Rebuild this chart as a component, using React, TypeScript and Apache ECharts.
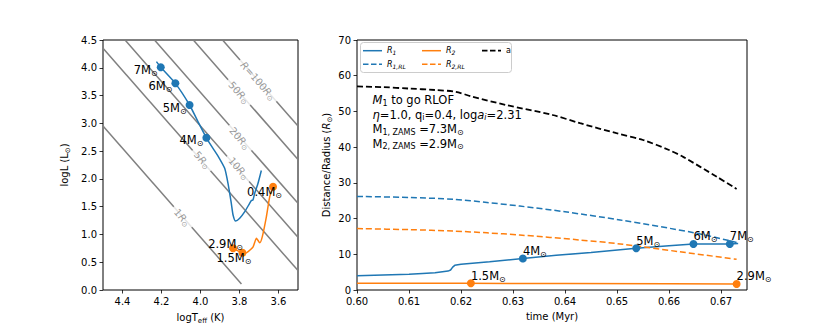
import React, { useEffect, useRef } from 'react';
import * as echarts from 'echarts';

const FONT = 'DejaVu Sans';
const BLUE = '#1f77b4';
const ORANGE = '#ff7f0e';
const GRAY = '#808080';

// ---------- HR diagram (left) ----------
const hrXTicks = [3.6, 3.8, 4.0, 4.2, 4.4];
const isoRadius = ['1', '5', '10', '20', '50', '100'];
const isoStartT = [4.5, 4.5, 4.387, 4.236, 4.037, 3.887];
const isoStartL = [2.95, 4.35, 4.5, 4.5, 4.5, 4.5];
const isoEndT = [3.79, 3.5, 3.5, 3.5, 3.5, 3.5];
const isoEndL = [0.11, 0.35, 0.95, 1.56, 2.35, 2.95];
const isoLabelT = [4.094, 3.991, 3.804, 3.799, 3.803, 3.705];
const isoLabelL = [1.305, 2.34, 2.19, 2.73, 3.555, 3.765];

const track1T = [4.226, 4.204, 4.129, 4.056, 4.013, 3.970, 3.936, 3.905, 3.876, 3.859, 3.842, 3.833, 3.820, 3.799, 3.773, 3.748, 3.739, 3.731, 3.722, 3.705, 3.688];
const track1L = [4.11, 4.01, 3.72, 3.33, 3.03, 2.74, 2.55, 2.38, 2.19, 1.92, 1.56, 1.35, 1.24, 1.29, 1.41, 1.56, 1.61, 1.62, 1.74, 1.92, 2.15];
const track2T = [3.833, 3.785, 3.770, 3.756, 3.731, 3.713, 3.696, 3.683, 3.662, 3.645, 3.628];
const track2L = [0.75, 0.67, 0.66, 0.69, 0.77, 0.93, 0.85, 0.96, 1.32, 1.68, 1.86];

const hr1MarkT = [4.204, 4.129, 4.056, 3.970];
const hr1MarkL = [4.01, 3.72, 3.33, 2.74];
const hr1MarkMass = ['7', '6', '5', '4'];
const hr2MarkT = [3.833, 3.785, 3.628];
const hr2MarkL = [0.75, 0.67, 1.86];
const hr2MarkMass = ['2.9', '1.5', '0.4'];

// ---------- Distance / radius vs time (right) ----------
const timeTicks = [0.6, 0.61, 0.62, 0.63, 0.64, 0.65, 0.66, 0.67];

const aTime = [0.600, 0.605, 0.610, 0.615, 0.619, 0.622, 0.6287, 0.6376, 0.6429, 0.6499, 0.655, 0.660, 0.6628, 0.6692, 0.673];
const aDist = [57.0, 56.8, 56.4, 56.0, 55.5, 54.2, 51.8, 49.0, 46.7, 43.9, 42.0, 39.2, 37.2, 31.7, 28.3];

const r1Time = [0.600, 0.605, 0.610, 0.6126, 0.615, 0.6175, 0.618, 0.6184, 0.6188, 0.620, 0.6255, 0.6319, 0.6383, 0.645, 0.6506, 0.6537, 0.660, 0.6647, 0.6717, 0.6733];
const r1Rad = [4.0, 4.2, 4.4, 4.6, 4.8, 5.3, 5.6, 6.4, 6.9, 7.2, 7.9, 8.8, 9.7, 10.5, 11.3, 11.7, 12.4, 12.9, 12.9, 13.0];

const r1rlTime = [0.600, 0.610, 0.6186, 0.625, 0.6313, 0.640, 0.6506, 0.6653, 0.673];
const r1rlRad = [26.2, 25.9, 25.4, 24.5, 23.5, 21.9, 19.6, 15.9, 13.3];

const r2Time = [0.600, 0.620, 0.640, 0.660, 0.673];
const r2Rad = [1.9, 1.9, 1.8, 1.75, 1.7];

const r2rlTime = [0.600, 0.610, 0.6186, 0.625, 0.6313, 0.6429, 0.6506, 0.6621, 0.673];
const r2rlRad = [17.2, 16.9, 16.5, 16.0, 15.4, 14.0, 12.9, 10.7, 8.6];

const r1MarkTime = [0.6319, 0.6537, 0.6647, 0.6717];
const r1MarkRad = [8.8, 11.7, 12.9, 12.9];
const r1MarkMass = ['4', '5', '6', '7'];
const r2MarkTime = [0.6219, 0.6730];
const r2MarkRad = [1.9, 1.7];
const r2MarkMass = ['1.5', '2.9'];

// legend entries (column-major like matplotlib, ncol=3)
const legendNames = ['R1', 'R1RL', 'R2', 'R2RL', 'a'];

const zip = (xs: number[], ys: number[]) => xs.map((x, i) => [x, ys[i]]);

const sunRich = {
  m: { fontFamily: FONT, fontSize: 11.5, color: '#000', lineHeight: 11 },
  s: { fontFamily: FONT, fontSize: 8, color: '#000', lineHeight: 11, padding: [7, 0, 0, 0] },
};
const massLabel = (m: string) => `{m|${m}M}{s|⊙}`;

const hr1Offsets = [[-3, 3], [-3, 3], [-3, 3], [-3, 2]];
const hr2Offsets = [[10, -4.5], [9, 5.5], [9, 5]];

export default function App() {
  const ref = useRef<HTMLDivElement>(null);
  useEffect(() => {
    document.body.style.margin = '0';
    const chart = echarts.init(ref.current!, null, { renderer: 'svg' });

    const axisCommon = {
      splitLine: { show: false },
      axisLine: { show: false, onZero: false },
      axisTick: { length: 3.5, lineStyle: { color: '#000', width: 0.8 } },
      nameTextStyle: {
        fontFamily: FONT, fontSize: 10, color: '#000',
        rich: {
          n: { fontFamily: FONT, fontSize: 10, color: '#000' },
          i: { fontFamily: FONT, fontSize: 10, color: '#000', fontStyle: 'italic' },
          s: { fontFamily: FONT, fontSize: 7, color: '#000', padding: [6, 0, 0, 0] },
        },
      },
    };
    const labelCommon = { fontFamily: FONT, fontSize: 10, color: '#000' };

    const isoSeries = isoRadius.map((r, i) => ({
      type: 'line', xAxisIndex: 0, yAxisIndex: 0, silent: true, symbol: 'none', z: 1,
      lineStyle: { color: GRAY, width: 1.5 },
      data: [[isoStartT[i], isoStartL[i]], [isoEndT[i], isoEndL[i]]],
    }));

    const isoLabelSeries = {
      type: 'scatter', xAxisIndex: 0, yAxisIndex: 0, silent: true, z: 2,
      symbolSize: 1, itemStyle: { color: 'transparent' },
      data: isoRadius.map((r, i) => ({
        value: [isoLabelT[i], isoLabelL[i]],
        label: {
          show: true, position: 'inside', rotate: -48.7,
          backgroundColor: '#fff', padding: [1, 4],
          formatter: r === '100' ? `{i|R}{n|=${r}}{i|R}{s|⊙}` : `{n|${r}}{i|R}{s|⊙}`,
          rich: {
            n: { fontFamily: FONT, fontSize: 10, color: GRAY, lineHeight: 11 },
            i: { fontFamily: FONT, fontSize: 10, color: GRAY, fontStyle: 'italic', lineHeight: 11 },
            s: { fontFamily: FONT, fontSize: 7, color: GRAY, padding: [6, 0, 0, 0], lineHeight: 11 },
          },
        },
      })),
    };

    // custom legend (matplotlib style box)
    const legendRich = {
      r: { fontFamily: FONT, fontSize: 8, color: '#000', fontStyle: 'italic' },
      s: { fontFamily: FONT, fontSize: 6, color: '#000', fontStyle: 'italic', padding: [4, 0, 0, 0] },
      n: { fontFamily: FONT, fontSize: 8, color: '#000' },
    };
    const legendText: Record<string, string> = {
      R1: '{r|R}{s|1}', R2: '{r|R}{s|2}', a: '{n|a}', R1RL: '{r|R}{s|1,RL}', R2RL: '{r|R}{s|2,RL}',
    };
    const legendColor: Record<string, string> = { R1: BLUE, R1RL: BLUE, R2: ORANGE, R2RL: ORANGE, a: '#000' };
    const legendDashed: Record<string, boolean> = { R1: false, R2: false, a: true, R1RL: true, R2RL: true };
    const colX = [363, 422, 482];
    const rowY = [50.7, 64.3];
    const legendEls: any[] = [
      { type: 'rect', shape: { x: 360.5, y: 42.5, width: 151, height: 30, r: 3 }, style: { fill: 'rgba(255,255,255,0.8)', stroke: '#ccc', lineWidth: 1 }, z: 20 },
    ];
    legendNames.forEach((n, k) => {
      const col = Math.floor(k / 2);
      const row = k % 2;
      const x = colX[col];
      const y = rowY[row];
      legendEls.push({
        type: 'line', z: 21,
        shape: { x1: x, y1: y, x2: x + 19, y2: y },
        style: { stroke: legendColor[n], lineWidth: n === 'a' ? 1.8 : 1.5, lineDash: legendDashed[n] ? [5.5, 2.5] : null },
      });
      legendEls.push({
        type: 'text', z: 21, x: x + 24, y: y,
        style: { text: legendText[n], rich: legendRich, fontFamily: FONT, fontSize: 8, fill: '#000', verticalAlign: 'middle', align: 'left' },
      });
    });

    const annRich = {
      n: { fontFamily: FONT, fontSize: 11.5, color: '#000' },
      i: { fontFamily: FONT, fontSize: 11.5, color: '#000', fontStyle: 'italic' },
      s: { fontFamily: FONT, fontSize: 8, color: '#000', padding: [6, 0, 0, 0] },
      si: { fontFamily: FONT, fontSize: 8, color: '#000', fontStyle: 'italic', padding: [6, 0, 0, 0] },
    };
    const annLines = [
      '{i|M}{s|1}{n| to go RLOF}',
      '{i|η}{n|=1.0, q}{s|i}{n|=0.4, log}{i|a}{si|i}{n|=2.31}',
      '{n|M}{s|1, ZAMS}{n| =7.3M}{s|⊙}',
      '{n|M}{s|2, ZAMS}{n| =2.9M}{s|⊙}',
    ];
    const annY = [100, 114.5, 129, 143.5];
    const annEls = annLines.map((t, i) => ({
      type: 'text', x: 372.5, y: annY[i], z: 10,
      style: { text: t, rich: annRich, fontFamily: FONT, fontSize: 11.5, fill: '#000', verticalAlign: 'middle', align: 'left' },
    }));

    const option = {
      animation: false,
      textStyle: { fontFamily: FONT },
      grid: [
        { left: 103, top: 40, width: 195, height: 250, show: true, borderColor: '#000', borderWidth: 1, backgroundColor: 'transparent' },
        { left: 357, top: 40, width: 390, height: 250, show: true, borderColor: '#000', borderWidth: 1, backgroundColor: 'transparent' },
      ],
      xAxis: [
        {
          ...axisCommon, type: 'value', gridIndex: 0, min: 3.5, max: 4.5, inverse: true,
          axisTick: { ...axisCommon.axisTick, customValues: hrXTicks },
          axisLabel: { ...labelCommon, customValues: hrXTicks, margin: 6, formatter: (v: number) => v.toFixed(1) },
          name: '{n|logT}{s|eff}{n| (K)}', nameLocation: 'middle', nameGap: 21,
        },
        {
          ...axisCommon, type: 'value', gridIndex: 1, min: 0.6, max: 0.675,
          axisTick: { ...axisCommon.axisTick, customValues: timeTicks },
          axisLabel: { ...labelCommon, customValues: timeTicks, margin: 6, formatter: (v: number) => v.toFixed(2) },
          name: '{n|time (Myr)}', nameLocation: 'middle', nameGap: 21,
        },
      ],
      yAxis: [
        {
          ...axisCommon, type: 'value', gridIndex: 0, min: 0, max: 4.5, interval: 0.5,
          axisLabel: { ...labelCommon, margin: 6, formatter: (v: number) => v.toFixed(1) },
          name: '{n|logL (L}{s|⊙}{n|)}', nameLocation: 'middle', nameGap: 32,
        },
        {
          ...axisCommon, type: 'value', gridIndex: 1, min: 0, max: 70, interval: 10,
          axisLabel: { ...labelCommon, margin: 6 },
          name: '{n|Distance/Radius (}{i|R}{s|⊙}{n|)}', nameLocation: 'middle', nameGap: 24,
        },
      ],
      graphic: [...legendEls, ...annEls],
      series: [
        ...isoSeries,
        isoLabelSeries,
        {
          type: 'line', xAxisIndex: 0, yAxisIndex: 0, symbol: 'none', z: 3, smooth: 0.2,
          lineStyle: { color: BLUE, width: 1.5 }, data: zip(track1T, track1L),
        },
        {
          type: 'line', xAxisIndex: 0, yAxisIndex: 0, symbol: 'none', z: 3, smooth: 0.2,
          lineStyle: { color: ORANGE, width: 1.5 }, data: zip(track2T, track2L),
        },
        {
          type: 'scatter', xAxisIndex: 0, yAxisIndex: 0, symbolSize: 8, z: 4, itemStyle: { color: BLUE, opacity: 1 },
          data: hr1MarkT.map((t, i) => ({
            value: [t, hr1MarkL[i]],
            label: { show: true, position: 'inside', align: 'right', verticalAlign: 'middle', offset: hr1Offsets[i], formatter: massLabel(hr1MarkMass[i]), rich: sunRich },
          })),
        },
        {
          type: 'scatter', xAxisIndex: 0, yAxisIndex: 0, symbolSize: 8, z: 4, itemStyle: { color: ORANGE, opacity: 1 },
          data: hr2MarkT.map((t, i) => ({
            value: [t, hr2MarkL[i]],
            label: { show: true, position: 'inside', align: 'right', verticalAlign: 'middle', offset: hr2Offsets[i], formatter: massLabel(hr2MarkMass[i]), rich: sunRich },
          })),
        },
        // right panel
        {
          name: 'R1', type: 'line', xAxisIndex: 1, yAxisIndex: 1, symbol: 'none', z: 3,
          lineStyle: { color: BLUE, width: 1.5 }, data: zip(r1Time, r1Rad),
        },
        {
          name: 'R2', type: 'line', xAxisIndex: 1, yAxisIndex: 1, symbol: 'none', z: 3,
          lineStyle: { color: ORANGE, width: 1.5 }, data: zip(r2Time, r2Rad),
        },
        {
          name: 'a', type: 'line', xAxisIndex: 1, yAxisIndex: 1, symbol: 'none', z: 3, smooth: 0.3,
          lineStyle: { color: '#000', width: 1.8, type: [6, 3] }, data: zip(aTime, aDist),
        },
        {
          name: 'R1RL', type: 'line', xAxisIndex: 1, yAxisIndex: 1, symbol: 'none', z: 3, smooth: 0.3,
          lineStyle: { color: BLUE, width: 1.5, type: [6, 3] }, data: zip(r1rlTime, r1rlRad),
        },
        {
          name: 'R2RL', type: 'line', xAxisIndex: 1, yAxisIndex: 1, symbol: 'none', z: 3, smooth: 0.3,
          lineStyle: { color: ORANGE, width: 1.5, type: [6, 3] }, data: zip(r2rlTime, r2rlRad),
        },
        {
          type: 'scatter', xAxisIndex: 1, yAxisIndex: 1, symbolSize: 8, z: 4, itemStyle: { color: BLUE, opacity: 1 },
          data: r1MarkTime.map((t, i) => ({
            value: [t, r1MarkRad[i]],
            label: { show: true, position: 'inside', align: 'left', verticalAlign: 'middle', offset: [0, -7.5], formatter: massLabel(r1MarkMass[i]), rich: sunRich },
          })),
        },
        {
          type: 'scatter', xAxisIndex: 1, yAxisIndex: 1, symbolSize: 8, z: 4, itemStyle: { color: ORANGE, opacity: 1 },
          data: r2MarkTime.map((t, i) => ({
            value: [t, r2MarkRad[i]],
            label: { show: true, position: 'inside', align: 'left', verticalAlign: 'middle', offset: [0, -7.5], formatter: massLabel(r2MarkMass[i]), rich: sunRich },
          })),
        },
      ],
    };

    chart.setOption(option as any);
    return () => chart.dispose();
  }, []);
  return <div ref={ref} style={{ width: 830, height: 332 }} />;
}
